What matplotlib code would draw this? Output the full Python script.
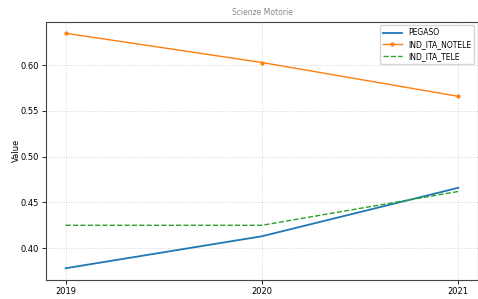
import matplotlib.pyplot as plt

years = [2019, 2020, 2021]
pegaso = [0.378, 0.413, 0.466]
ind_ita_notele = [0.635, 0.603, 0.566]
ind_ita_tele = [0.425, 0.425, 0.462]

fig = plt.figure(figsize=(4.78, 2.99), dpi=100)
ax = fig.add_axes([46 / 478, 19 / 299, 432 / 478, 258.5 / 299])

ax.plot(years, pegaso, color='#1f77b4', linewidth=1.3, label='PEGASO')
ax.plot(years, ind_ita_notele, color='#ff7f0e', linewidth=1.0, marker='o', markersize=2, label='IND_ITA_NOTELE')
ax.plot(years, ind_ita_tele, color='#2ca02c', linewidth=1.0, linestyle='--', label='IND_ITA_TELE')

ax.set_xticks(years)
ax.set_yticks([0.40, 0.45, 0.50, 0.55, 0.60])
ax.tick_params(labelsize=6, length=3, width=0.6, pad=2)
ax.grid(True, color='#cccccc', linestyle=':', linewidth=0.6)
for s in ax.spines.values():
    s.set_linewidth(0.8)
    s.set_color('#444444')

ax.set_title('Scienze Motorie', fontsize=5.5, color='#888888', pad=5)
ax.set_xlabel('Year', fontsize=6, labelpad=2)
ax.set_ylabel('Value', fontsize=6, labelpad=0)
ax.legend(loc='upper right', fontsize=5.5, handlelength=2.5, borderpad=0.4, labelspacing=0.35)

fig.savefig('out.png', dpi=100)
